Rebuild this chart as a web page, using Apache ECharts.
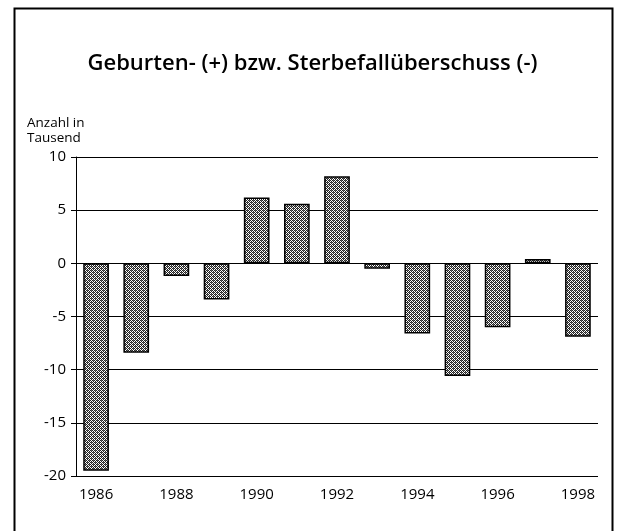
<!DOCTYPE html>
<html><head><meta charset="utf-8">
<script src="https://cdn.jsdelivr.net/npm/echarts@6/dist/echarts.min.js"></script>
<style>html,body{margin:0;padding:0;background:#fff}#c{width:625px;height:531px}</style>
</head><body><div id="c"></div>
<script>
const years = ['1986','1987','1988','1989','1990','1991','1992','1993','1994','1995','1996','1997','1998'];
const values = [-19.5, -8.4, -1.2, -3.4, 6.2, 5.6, 8.2, -0.5, -6.6, -10.6, -6.0, 0.4, -6.9];
const yTicks = [-20, -15, -10, -5, 0, 5, 10];
const titleText = 'Geburten- (+) bzw. Sterbefallüberschuss (-)';
const yName = 'Anzahl in\nTausend';

const pc = document.createElement('canvas');
pc.width = 4; pc.height = 4;
const g = pc.getContext('2d');
g.fillStyle = '#fff'; g.fillRect(0,0,4,4);
g.fillStyle = '#222';
g.fillRect(0,0,1,1); g.fillRect(2,0,1,1); g.fillRect(1,1,1,1); g.fillRect(3,1,1,1);
g.fillRect(0,2,1,1); g.fillRect(2,2,1,1); g.fillRect(1,3,1,1); g.fillRect(3,3,1,1);
g.fillStyle = '#666'; g.fillRect(1,0,1,1); g.fillRect(3,2,1,1);

const FONT = '"Open Sans", "Noto Sans", sans-serif';
const chart = echarts.init(document.getElementById('c'));
chart.setOption({
  animation: false,
  backgroundColor: '#fff',
  title: {
    text: titleText, left: 'center', top: 48,
    textStyle: {fontFamily: FONT, fontSize: 22, fontWeight: 600, color: '#000'}
  },
  graphic: [{
    type: 'rect', shape: {x: 14.5, y: 8.5, width: 598, height: 540},
    style: {fill: 'none', stroke: '#000', lineWidth: 2}, silent: true
  }, {
    type: 'text', left: 27, top: 116,
    style: {text: yName, font: '13.5px ' + FONT, fill: '#000', lineHeight: 15}
  }],
  grid: {left: 76, right: 27, top: 157, bottom: 55, containLabel: false},
  xAxis: {
    type: 'category', data: years,
    axisLine: {show: false, onZero: false},
    axisTick: {show: false},
    axisLabel: {interval: 1, fontFamily: FONT, fontSize: 15, color: '#000', margin: 11}
  },
  yAxis: {
    type: 'value', min: -20, max: 10, interval: 5,
    axisLine: {show: true, lineStyle: {color: '#000', width: 1}},
    axisTick: {show: true, length: 5, lineStyle: {color: '#000'}},
    axisLabel: {fontFamily: FONT, fontSize: 15, color: '#000', margin: 10,
      formatter: v => yTicks.includes(v) ? String(v) : ''},
    splitLine: {show: true, lineStyle: {color: '#000', width: 1.2}}
  },
  series: [{
    type: 'bar', data: values, barWidth: '64%',
    itemStyle: {
      color: {image: pc, repeat: 'repeat'},
      borderColor: '#000', borderWidth: 1.5
    }
  }]
});
</script></body></html>
